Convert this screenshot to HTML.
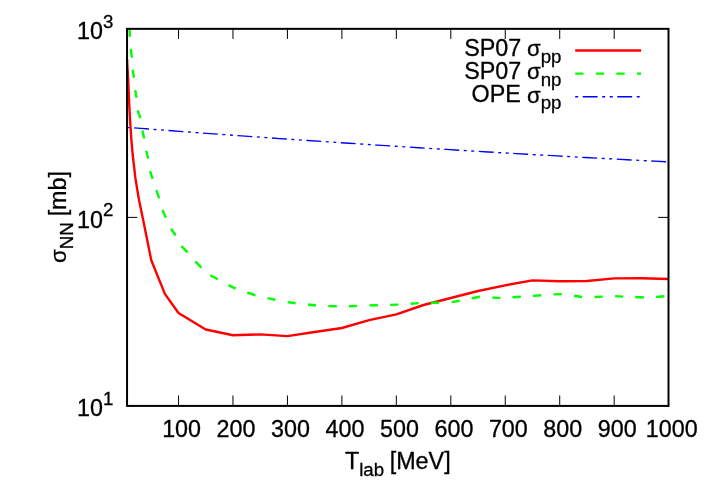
<!DOCTYPE html>
<html><head><meta charset="utf-8"><title>plot</title>
<style>
html,body{margin:0;padding:0;background:#fff;}
svg{display:block;will-change:transform;}
text{font-family:"Liberation Sans",sans-serif;fill:#000;stroke:#000;stroke-width:0.3px;}
</style></head><body>
<svg width="710" height="498" viewBox="0 0 710 498">
<rect x="0" y="0" width="710" height="498" fill="#fff"/>
<defs><clipPath id="c"><rect x="125.04" y="28.85" width="545.46" height="377.07"/></clipPath></defs>

<g fill="none" stroke-linejoin="round" stroke-linecap="butt" clip-path="url(#c)">
<path d="M127.04,59.30 L127.60,70.00 L128.20,80.00 L129.00,100.00 L130.05,120.00 L131.40,140.00 L132.70,155.00 L135.50,178.90 L139.00,200.00 L143.60,222.00 L151.27,260.30 L164.88,293.90 L178.50,313.00 L205.73,329.50 L232.96,335.25 L260.19,334.40 L287.42,336.10 L314.65,332.00 L341.88,328.00 L369.11,320.10 L396.34,314.30 L423.57,305.00 L450.80,298.00 L478.03,291.00 L505.26,285.30 L532.49,280.40 L559.72,281.30 L586.95,281.00 L614.18,278.40 L641.41,278.20 L668.64,279.00" stroke="#ff0000" stroke-width="2.4"/>
<path d="M129.50,28.00 L129.90,36.90 M130.80,49.00 L131.90,57.60 M132.70,69.80 L133.90,77.80 M135.20,90.10 L136.60,97.70 M137.60,110.40 L140.40,118.20 M142.40,130.40 L144.10,138.40 M146.20,150.80 L148.20,158.60 M150.00,171.20 L152.70,178.90 M156.30,190.20 L159.20,198.40 M162.50,209.90 L165.80,217.70 M171.00,228.70 L175.60,235.50 M181.50,246.10 L187.60,252.40 M195.40,261.50 L201.40,267.60 M210.30,275.40 L217.90,279.20 M228.60,285.20 L235.60,288.60 M247.30,292.50 L255.50,295.40 M267.50,298.20 L275.50,299.90 M287.60,302.10 L295.60,303.20 M308.00,304.50 L316.00,305.50 M328.30,306.10 L336.80,306.30 M349.00,306.20 L357.00,305.90 M369.40,305.40 L377.90,305.20 M390.10,304.90 L398.30,304.60 M410.60,303.80 L418.70,303.10 M431.00,302.80 L439.00,302.80 M451.70,302.10 L459.70,300.70 M471.80,298.20 L479.90,296.80 M492.30,297.60 L500.30,297.90 M512.50,297.30 L520.80,296.80 M533.00,295.90 L541.30,295.20 M553.70,294.40 L561.80,294.10 M574.10,295.80 L582.10,297.00 M594.50,297.00 L602.70,296.60 M615.10,296.10 L623.20,296.60 M635.20,297.00 L643.90,297.50 M656.10,297.00 L664.40,296.30" stroke="#00ff00" stroke-width="2.4"/>
<path d="M127.04,127.36 L140.92,128.42 L154.81,129.48 L168.69,130.53 L182.57,131.56 L196.46,132.59 L210.34,133.61 L224.23,134.61 L238.11,135.61 L251.99,136.60 L265.88,137.58 L279.76,138.55 L293.64,139.51 L307.53,140.46 L321.41,141.40 L335.29,142.33 L349.18,143.26 L363.06,144.17 L376.94,145.07 L390.83,145.96 L404.71,146.85 L418.60,147.72 L432.48,148.59 L446.36,149.44 L460.25,150.29 L474.13,151.13 L488.01,151.96 L501.90,152.77 L515.78,153.58 L529.66,154.38 L543.55,155.17 L557.43,155.95 L571.31,156.72 L585.20,157.48 L599.08,158.23 L612.97,158.97 L626.85,159.71 L640.73,160.43 L654.62,161.14 L668.50,161.85" stroke="#0000ff" stroke-width="1.35" stroke-dasharray="14.9 4.6 2.95 4.6 2.95 4.55" stroke-dashoffset="27.5"/>
</g>
<g stroke="#000" stroke-width="1" fill="none">
<path d="M178.50,405.92 V395.47 M178.50,28.85 V38.95"/>
<path d="M232.96,405.92 V395.47 M232.96,28.85 V38.95"/>
<path d="M287.42,405.92 V395.47 M287.42,28.85 V38.95"/>
<path d="M341.88,405.92 V395.47 M341.88,28.85 V38.95"/>
<path d="M396.34,405.92 V395.47 M396.34,28.85 V38.95"/>
<path d="M450.80,405.92 V395.47 M450.80,28.85 V38.95"/>
<path d="M505.26,405.92 V395.47 M505.26,28.85 V38.95"/>
<path d="M559.72,405.92 V395.47 M559.72,28.85 V38.95"/>
<path d="M614.18,405.92 V395.47 M614.18,28.85 V38.95"/>
<path d="M127.04,217.39 H137.34 M668.50,217.39 H658.20"/>
</g>
<rect x="127.04" y="28.85" width="541.46" height="377.07" fill="none" stroke="#000" stroke-width="2"/>
<text transform="translate(181.60,437.00) scale(1.000,1.033)" font-size="23.33" text-anchor="middle">100</text>
<text transform="translate(236.06,437.00) scale(1.000,1.033)" font-size="23.33" text-anchor="middle">200</text>
<text transform="translate(290.52,437.00) scale(1.000,1.033)" font-size="23.33" text-anchor="middle">300</text>
<text transform="translate(344.98,437.00) scale(1.000,1.033)" font-size="23.33" text-anchor="middle">400</text>
<text transform="translate(399.44,437.00) scale(1.000,1.033)" font-size="23.33" text-anchor="middle">500</text>
<text transform="translate(453.90,437.00) scale(1.000,1.033)" font-size="23.33" text-anchor="middle">600</text>
<text transform="translate(508.36,437.00) scale(1.000,1.033)" font-size="23.33" text-anchor="middle">700</text>
<text transform="translate(562.82,437.00) scale(1.000,1.033)" font-size="23.33" text-anchor="middle">800</text>
<text transform="translate(617.28,437.00) scale(1.000,1.033)" font-size="23.33" text-anchor="middle">900</text>
<text transform="translate(671.74,437.00) scale(1.000,1.033)" font-size="23.33" text-anchor="middle">1000</text>
<text transform="translate(77.10,39.20) scale(1.000,1.033)" font-size="23.33">10</text>
<text transform="translate(103.05,27.60) scale(1.000,1.033)" font-size="18.67">3</text>
<text transform="translate(77.10,227.74) scale(1.000,1.033)" font-size="23.33">10</text>
<text transform="translate(103.05,216.14) scale(1.000,1.033)" font-size="18.67">2</text>
<text transform="translate(77.10,416.27) scale(1.000,1.033)" font-size="23.33">10</text>
<text transform="translate(103.05,404.67) scale(1.000,1.033)" font-size="18.67">1</text>
<text transform="translate(344.90,468.90) scale(1.000,1.033)" font-size="23.33">T</text>
<text transform="translate(359.15,475.60)" font-size="18.67">lab</text>
<text transform="translate(389.70,468.90)" font-size="23.33">[MeV]</text>
<text transform="translate(65.85,263.10) rotate(-90) scale(0.950,0.930)" font-size="23.33">σ</text>
<text transform="translate(72.90,249.13) rotate(-90) scale(1.000,1.033)" font-size="18.67">NN</text>
<text transform="translate(65.70,216.36) rotate(-90)" font-size="23.33">[mb]</text>
<text transform="translate(464.20,56.05) scale(1.000,1.033)" font-size="23.33">SP07</text>
<text transform="translate(527.10,56.20) scale(0.950,0.930)" font-size="23.33">σ</text>
<text transform="translate(540.70,63.05)" font-size="18.67">pp</text>
<path d="M575.2,50.50 H641.1" stroke="#ff0000" stroke-width="2.4" fill="none"/>
<text transform="translate(464.20,79.30) scale(1.000,1.033)" font-size="23.33">SP07</text>
<text transform="translate(527.10,79.45) scale(0.950,0.930)" font-size="23.33">σ</text>
<text transform="translate(540.70,86.30)" font-size="18.67">np</text>
<path d="M575.2,73.65 H641.1" stroke="#00ff00" stroke-width="2.4" fill="none" stroke-dasharray="8.3 12.3" stroke-dashoffset="0"/>
<text transform="translate(471.50,102.45) scale(1.000,1.033)" font-size="23.33">OPE</text>
<text transform="translate(527.10,102.60) scale(0.950,0.930)" font-size="23.33">σ</text>
<text transform="translate(540.70,109.45)" font-size="18.67">pp</text>
<path d="M575.2,96.70 H641.1" stroke="#0000ff" stroke-width="1.35" fill="none" stroke-dasharray="14.9 4.6 2.95 4.6 2.95 4.55" stroke-dashoffset="27.05"/>
</svg></body></html>
